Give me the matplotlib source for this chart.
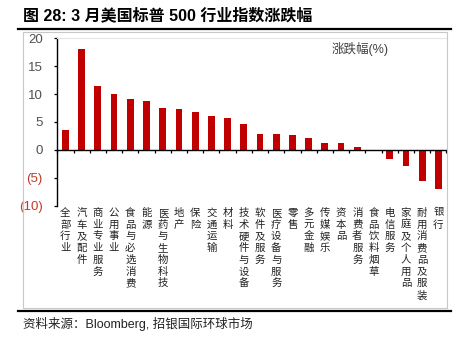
import matplotlib
matplotlib.use("Agg")
import matplotlib.pyplot as plt
from matplotlib.lines import Line2D
from matplotlib.patches import Rectangle
import numpy as np

plt.rcParams['font.family'] = ['Liberation Sans', 'Noto Sans CJK SC', 'DejaVu Sans']

categories = ['全部行业', '汽车及配件', '商业专业服务', '公用事业', '食品与必选消费', '能源',
              '医药与生物科技', '地产', '保险', '交通运输', '材料', '技术硬件与设备',
              '软件及服务', '医疗设备与服务', '零售', '多元金融', '传媒娱乐', '资本品',
              '消费者服务', '食品饮料烟草', '电信服务', '家庭及个人用品', '耐用消费品及服装', '银行']
values = [3.5, 18.0, 11.5, 10.1, 9.1, 8.8, 7.5, 7.25, 6.8, 6.05, 5.75, 4.7,
          2.9, 2.9, 2.6, 2.2, 1.3, 1.3, 0.45, 0.05, -1.7, -2.9, -5.6, -7.05]
ytick_values = [20, 15, 10, 5, 0, -5, -10]
ytick_labels = ['20', '15', '10', '5', '0', '(5)', '(10)']

title = '图 28: 3 月美国标普 500 行业指数涨跌幅'
source = '资料来源：Bloomberg, 招银国际环球市场'
series_label = '涨跌幅(%)'

W, H = 464, 340
fig = plt.figure(figsize=(W / 100, H / 100), dpi=100)

# outer decorations
fig.add_artist(Rectangle((22.7 / W, 1 - 307.5 / H), 424 / W, 275.5 / H,
                         transform=fig.transFigure, fill=False,
                         edgecolor='#C8C8C8', linewidth=0.8))
fig.add_artist(Line2D([18 / W, 451 / W], [1 - 29 / H] * 2, transform=fig.transFigure,
                      color='black', linewidth=1.6))
fig.add_artist(Line2D([18 / W, 451 / W], [1 - 311 / H] * 2, transform=fig.transFigure,
                      color='black', linewidth=1.6))
fig.text(22.7 / W, 1 - 15 / H, title, fontsize=11.5, fontweight='bold',
         va='center', ha='left', color='black')
fig.text(22.7 / W, 1 - 323.5 / H, source, fontsize=9, va='center', ha='left',
         color='#222222')

ax_l, ax_r = 57.3 / W, 446.5 / W
ax_t, ax_b = 1 - 38.3 / H, 1 - 205.7 / H
ax = fig.add_axes([ax_l, ax_b, ax_r - ax_l, ax_t - ax_b])

x = np.arange(len(categories))
ax.bar(x, values, width=0.42, color='#C00000', zorder=3)

ax.set_xlim(-0.5, len(categories) - 0.5)
ax.set_ylim(-10, 20)

# zero-line axis with boundary ticks
ax.spines['bottom'].set_position(('data', 0))
ax.spines['bottom'].set_linewidth(1.0)
ax.spines['bottom'].set_zorder(4)
ax.set_xticks(np.arange(-0.5, len(categories), 1.0))
ax.tick_params(axis='x', direction='out', length=2.5, width=0.9, labelbottom=False,
               color='black')
ax.spines['top'].set_color('#E6E6E6')
ax.spines['top'].set_linewidth(0.8)
ax.spines['right'].set_visible(False)
ax.spines['left'].set_linewidth(1.0)

ax.set_yticks(ytick_values)
ax.set_yticklabels(ytick_labels, fontsize=9.5)
ax.tick_params(axis='y', direction='out', length=2.5, width=0.9, pad=8)
for lbl, v in zip(ax.get_yticklabels(), ytick_values):
    lbl.set_color('#C0392B' if v < 0 else '#505050')

# category labels at bottom
sec = ax.secondary_xaxis('bottom')
sec.set_xticks(x)
sec.set_xticklabels(['\n'.join(c) for c in categories], fontsize=7.5,
                    linespacing=1.22, va='top', color='#222222',
                    family=['Noto Sans CJK SC', 'DejaVu Sans'])
sec.tick_params(axis='x', length=0, pad=1.5)
sec.spines['bottom'].set_visible(False)

ax.text(0.779, 0.936, series_label, transform=ax.transAxes, fontsize=9,
        ha='center', va='center', color='#404040')

fig.savefig('out.png', dpi=100)
